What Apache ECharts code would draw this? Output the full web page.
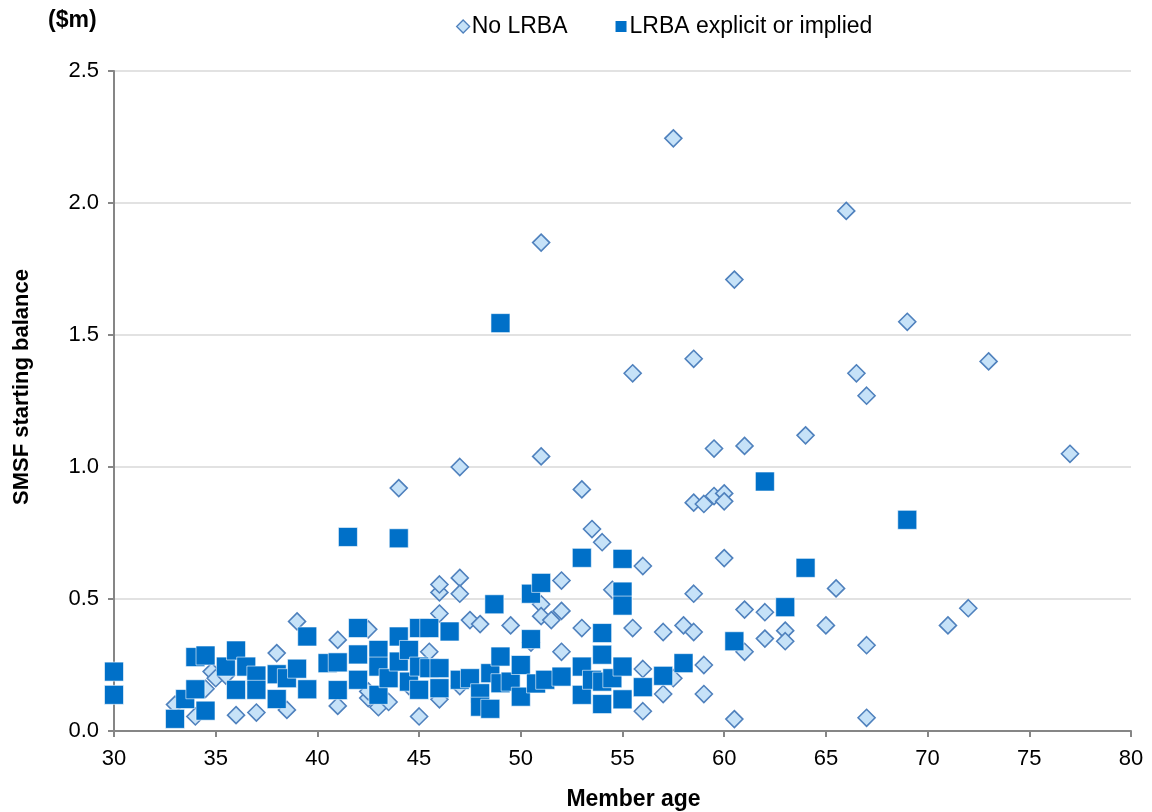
<!DOCTYPE html>
<html>
<head>
<meta charset="utf-8">
<style>
  html, body { margin: 0; padding: 0; background: #ffffff; }
  #chart { width: 1152px; height: 812px; }
</style>
<script src="https://cdn.jsdelivr.net/npm/echarts@6/dist/echarts.min.js"></script>
</head>
<body>
<div id="chart"></div>
<script>
// Series names
const seriesNames = ['No LRBA', 'LRBA explicit or implied'];

// Member age vs SMSF starting balance ($m), funds without an LRBA
const noLrbaPoints = [
  [33, 0.10], [34, 0.055], [34.5, 0.16], [34.8, 0.225], [35, 0.20], [35.5, 0.21],
  [36, 0.06], [37, 0.07], [38, 0.295], [38.5, 0.08], [39, 0.415], [41, 0.345],
  [41, 0.095], [42.5, 0.385], [42.5, 0.125], [42.5, 0.15], [43, 0.09], [43.5, 0.11],
  [44, 0.92], [44.5, 0.17], [45, 0.055], [45.5, 0.30], [46, 0.12], [46, 0.445],
  [46, 0.525], [46, 0.555], [47, 0.58], [47, 0.52], [47, 1.0], [47, 0.17],
  [47.5, 0.42], [48, 0.405], [49.5, 0.40], [50.5, 0.335], [51, 1.85], [51, 1.04],
  [51, 0.48], [51, 0.435], [51.5, 0.42], [52, 0.57], [52, 0.455], [52, 0.30],
  [53, 0.915], [53, 0.39], [53.5, 0.765], [54, 0.715], [54.5, 0.535], [55.5, 1.355],
  [55.5, 0.39], [56, 0.625], [56, 0.235], [56, 0.075], [57, 0.375], [57, 0.14],
  [57.5, 2.245], [57.5, 0.20], [58, 0.40], [58.5, 1.41], [58.5, 0.865], [58.5, 0.52],
  [58.5, 0.375], [59, 0.86], [59, 0.25], [59, 0.14], [59.5, 1.07], [59.5, 0.89],
  [60, 0.90], [60, 0.87], [60, 0.655], [60.5, 1.71], [60.5, 0.045], [61, 1.08],
  [61, 0.46], [61, 0.30], [62, 0.45], [62, 0.35], [63, 0.38], [63, 0.34],
  [64, 1.12], [65, 0.40], [65.5, 0.54], [66, 1.97], [66.5, 1.355], [67, 1.27],
  [67, 0.325], [67, 0.05], [69, 1.55], [71, 0.40], [72, 0.465], [73, 1.40],
  [77, 1.05]
];

// Member age vs SMSF starting balance ($m), funds with an LRBA (explicit or implied)
const lrbaPoints = [
  [30, 0.225], [30, 0.137], [33, 0.046], [33.5, 0.121], [34, 0.28], [34, 0.158],
  [34.5, 0.286], [34.5, 0.077], [35.5, 0.244], [36, 0.305], [36, 0.156], [36.5, 0.244],
  [37, 0.21], [37, 0.156], [38, 0.215], [38, 0.121], [38.5, 0.20], [39, 0.236],
  [39.5, 0.358], [39.5, 0.158], [40.5, 0.257], [41, 0.26], [41, 0.155], [41.5, 0.735],
  [42, 0.39], [42, 0.29], [42, 0.194], [43, 0.307], [43, 0.244], [43, 0.137],
  [43.5, 0.20], [44, 0.73], [44, 0.358], [44, 0.263], [44.5, 0.307], [44.5, 0.187],
  [45, 0.39], [45, 0.244], [45, 0.156], [45.5, 0.39], [45.5, 0.238], [46, 0.238],
  [46, 0.162], [46.5, 0.377], [47, 0.194], [47.5, 0.20], [48, 0.143], [48, 0.092],
  [48.5, 0.219], [48.5, 0.084], [48.7, 0.48], [49, 1.545], [49, 0.282], [49, 0.181],
  [49.5, 0.187], [50, 0.25], [50, 0.13], [50.5, 0.52], [50.5, 0.348], [50.75, 0.18],
  [51, 0.561], [51.2, 0.194], [52, 0.206], [53, 0.656], [53, 0.244], [53, 0.137],
  [53.5, 0.194], [54, 0.371], [54, 0.289], [54, 0.187], [54, 0.102], [54.5, 0.20],
  [55, 0.652], [55, 0.528], [55, 0.475], [55, 0.244], [55, 0.12], [56, 0.166],
  [57, 0.209], [58, 0.257], [60.5, 0.34], [62, 0.945], [63, 0.469], [64, 0.618],
  [69, 0.80]
];

// Axis ranges and tick steps
const ageTicks = { min: 30, max: 80, step: 5 };
const balanceTicks = { min: 0, max: 2.5, step: 0.5 };

// Axis and chart titles
const xTitle = 'Member age';
const yTitle = 'SMSF starting balance';
const unitLabel = '($m)';

const FONT = '"Liberation Sans", Arial, sans-serif';
const AXIS_GREY = '#868686';

const chart = echarts.init(document.getElementById('chart'), null, { renderer: 'canvas' });

chart.setOption({
  animation: false,
  backgroundColor: '#ffffff',
  textStyle: { fontFamily: FONT },
  grid: { left: 114, right: 21, top: 71, bottom: 81, containLabel: false, outerBoundsMode: 'none' },
  legend: {
    top: 10,
    left: 451,
    itemGap: 46,
    itemWidth: 13,
    itemHeight: 13,
    textStyle: { fontFamily: FONT, fontSize: 23, color: '#000000', padding: [0, 0, 0, -3] },
    data: [
      { name: seriesNames[0], icon: 'diamond', itemStyle: { color: '#c6e2f8', borderColor: '#4f81bd', borderWidth: 1.3 } },
      { name: seriesNames[1], icon: 'rect', itemStyle: { color: '#0070c8' } }
    ]
  },
  xAxis: {
    type: 'value',
    min: ageTicks.min,
    max: ageTicks.max,
    interval: ageTicks.step,
    name: xTitle,
    nameLocation: 'middle',
    nameGap: 57,
    nameTextStyle: { fontFamily: FONT, fontSize: 23, fontWeight: 'bold', color: '#000000', padding: [0, 0, 0, 22] },
    axisLine: { show: true, onZero: false, lineStyle: { color: AXIS_GREY, width: 2 } },
    axisTick: { show: true, length: 6, lineStyle: { color: AXIS_GREY, width: 2 } },
    axisLabel: { fontFamily: FONT, fontSize: 22, color: '#000000', margin: 17 },
    splitLine: { show: false }
  },
  yAxis: {
    type: 'value',
    min: balanceTicks.min,
    max: balanceTicks.max,
    interval: balanceTicks.step,
    axisLine: { show: true, onZero: false, lineStyle: { color: AXIS_GREY, width: 2 } },
    axisTick: { show: true, length: 6, lineStyle: { color: AXIS_GREY, width: 2 } },
    axisLabel: {
      fontFamily: FONT, fontSize: 22, color: '#000000', margin: 15,
      formatter: (v) => v.toFixed(1)
    },
    splitLine: { show: true, lineStyle: { color: '#d9d9d9', width: 1.5 } }
  },
  graphic: [
    {
      type: 'text',
      left: 48,
      top: 9,
      style: { text: unitLabel, fontFamily: FONT, fontSize: 23, fontWeight: 'bold', fill: '#000000' }
    },
    {
      type: 'text',
      x: 22,
      y: 387,
      rotation: Math.PI / 2,
      style: {
        text: yTitle, fontFamily: FONT, fontSize: 22, fontWeight: 'bold', fill: '#000000',
        align: 'center', verticalAlign: 'middle'
      }
    }
  ],
  series: [
    {
      name: seriesNames[0],
      type: 'scatter',
      symbol: 'diamond',
      symbolSize: 17,
      z: 2,
      itemStyle: { color: '#c6e2f8', borderColor: '#4f81bd', borderWidth: 1.6, opacity: 1 },
      emphasis: { disabled: true },
      data: noLrbaPoints
    },
    {
      name: seriesNames[1],
      type: 'scatter',
      symbol: 'rect',
      symbolSize: 19,
      z: 3,
      itemStyle: { color: '#0070c8', borderColor: '#ffffff', borderWidth: 0.6, opacity: 1 },
      emphasis: { disabled: true },
      data: lrbaPoints
    }
  ]
});
</script>
</body>
</html>
